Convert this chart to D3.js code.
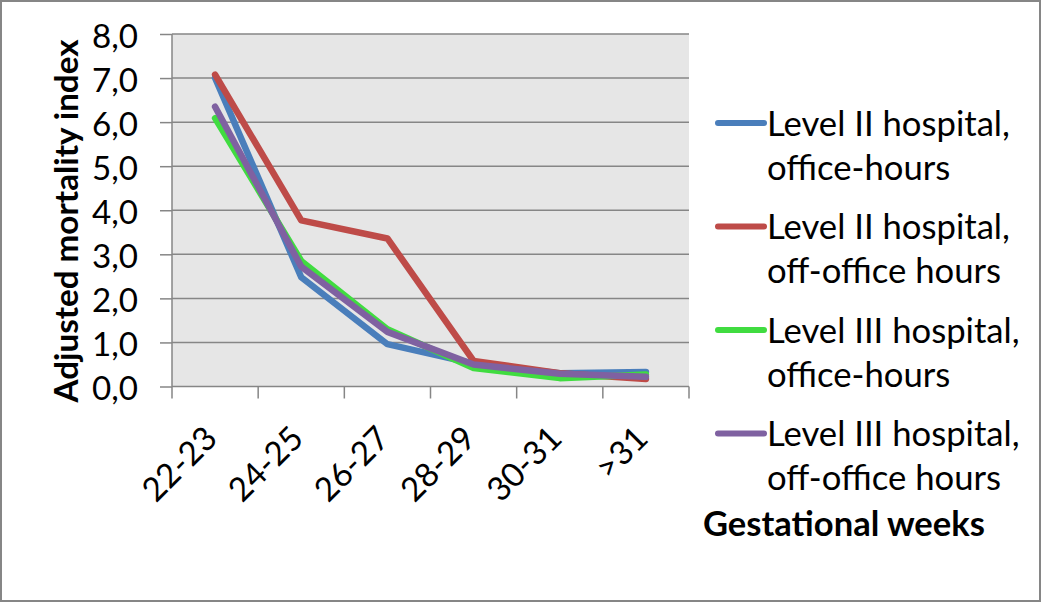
<!DOCTYPE html>
<html><head><meta charset="utf-8">
<script src="https://cdn.jsdelivr.net/npm/d3@7"></script>
<style>
html,body{margin:0;padding:0;background:#fff;}
svg{display:block;}
text{font-family:Lato,"Noto Sans",sans-serif;fill:#000;}
</style></head>
<body>
<svg id="chart" width="1042" height="603"></svg>
<script>
const categories = ["22-23","24-25","26-27","28-29","30-31",">31"];
const level2Office    = [7.0, 2.48, 0.96, 0.52, 0.30, 0.33];
const level2OffOffice = [7.08, 3.77, 3.36, 0.58, 0.30, 0.17];
const level3Office    = [6.09, 2.85, 1.30, 0.42, 0.19, 0.27];
const level3OffOffice = [6.35, 2.72, 1.24, 0.50, 0.29, 0.22];
const seriesNames = [
  ["Level II hospital,","office-hours"],
  ["Level II hospital,","off-office hours"],
  ["Level III hospital,","office-hours"],
  ["Level III hospital,","off-office hours"]
];
const seriesColors = ["#4A7EBB","#BE4B48","#40DC40","#7F61A1"];
const yTicks = [0,1,2,3,4,5,6,7,8];
const yTitle = "Adjusted mortality index";
const xTitle = "Gestational weeks";

const seriesValues = [level2Office, level2OffOffice, level3Office, level3OffOffice];

const svg = d3.select("#chart");
const plot = {left:172, right:689, top:34, bottom:386.5};

// outer border
svg.append("rect").attr("x",1).attr("y",1).attr("width",1039).attr("height",600)
  .attr("fill","#fff").attr("stroke","#868686").attr("stroke-width",2);

const x = d3.scaleBand().domain(categories).range([plot.left, plot.right]);
const y = d3.scaleLinear().domain([0,8]).range([plot.bottom, plot.top]);

// fit helper: set font size so that a reference string has target width
function fitSize(str, target, weight){
  const t = svg.append("text").attr("font-size",100).attr("font-weight",weight||"normal").text(str);
  const w = t.node().getComputedTextLength();
  t.remove();
  return 100*target/w;
}

// plot background
svg.append("rect").attr("x",plot.left).attr("y",plot.top)
  .attr("width",plot.right-plot.left).attr("height",plot.bottom-plot.top)
  .attr("fill","#E6E6E6");

// gridlines
svg.append("g").selectAll("line").data(yTicks.filter(d=>d>0)).join("line")
  .attr("x1",plot.left).attr("x2",plot.right)
  .attr("y1",d=>y(d)).attr("y2",d=>y(d))
  .attr("stroke","#868686").attr("stroke-width",1.5);

// y axis
const tickFont = fitSize("8,0", 46);
const yAxis = svg.append("g").attr("transform",`translate(${plot.left},0)`)
  .call(d3.axisLeft(y).tickValues(yTicks).tickSize(12).tickPadding(22)
    .tickFormat(d=>d3.format(".1f")(d).replace(".",",")));
yAxis.select(".domain").remove();
yAxis.append("line").attr("x1",0).attr("x2",0).attr("y1",plot.top).attr("y2",plot.bottom)
  .attr("stroke","#868686").attr("stroke-width",1.5);
yAxis.selectAll(".tick line").attr("stroke","#868686").attr("stroke-width",1.5);
yAxis.selectAll(".tick text").attr("font-size",tickFont).attr("font-family","Lato").attr("fill","#000").attr("dy","0.4em");

// x axis
const xAxisG = svg.append("g").attr("transform",`translate(0,${plot.bottom})`);
xAxisG.append("line").attr("x1",plot.left).attr("x2",plot.right).attr("y1",0).attr("y2",0)
  .attr("stroke","#868686").attr("stroke-width",1.5);
const tickPos = categories.map(c=>x(c)).concat([x(categories[categories.length-1])+x.bandwidth()]);
xAxisG.selectAll("line.t").data(tickPos).join("line").attr("class","t")
  .attr("x1",d=>d).attr("x2",d=>d).attr("y1",0).attr("y2",12)
  .attr("stroke","#868686").attr("stroke-width",1.5);
xAxisG.selectAll("text").data(categories).join("text")
  .attr("transform",d=>`translate(${x(d)+x.bandwidth()/2+4},${54}) rotate(-45)`)
  .attr("text-anchor","end").attr("font-size",tickFont).text(d=>d);

// lines
const line = d3.line().x((d,i)=>x(categories[i])+x.bandwidth()/2).y(d=>y(d));
svg.append("g").selectAll("path").data(seriesValues).join("path")
  .attr("d",d=>line(d)).attr("fill","none")
  .attr("stroke",(d,i)=>seriesColors[i]).attr("stroke-width",6.5)
  .attr("stroke-linejoin","round").attr("stroke-linecap","round");

// y title
const yTitleSize = fitSize(yTitle, 363, "bold");
svg.append("text").attr("transform","translate(78,221) rotate(-90)")
  .attr("text-anchor","middle").attr("font-weight","bold").attr("font-size",yTitleSize).text(yTitle);

// legend
const legFont = fitSize("Level II hospital,", 243);
const leg = svg.append("g");
seriesNames.forEach((lines,i)=>{
  const ly = 123 + i*103.5;
  leg.append("line").attr("x1",718).attr("x2",764).attr("y1",ly).attr("y2",ly)
    .attr("stroke",seriesColors[i]).attr("stroke-width",6).attr("stroke-linecap","round");
  lines.forEach((s,j)=>{
    leg.append("text").attr("x",767).attr("y",ly+12.7+j*44).attr("font-size",legFont).text(s);
  });
});

// x title
const xTitleSize = fitSize(xTitle, 282, "bold");
svg.append("text").attr("x",703).attr("y",536).attr("font-weight","bold")
  .attr("font-size",xTitleSize).text(xTitle);
</script>
</body></html>
